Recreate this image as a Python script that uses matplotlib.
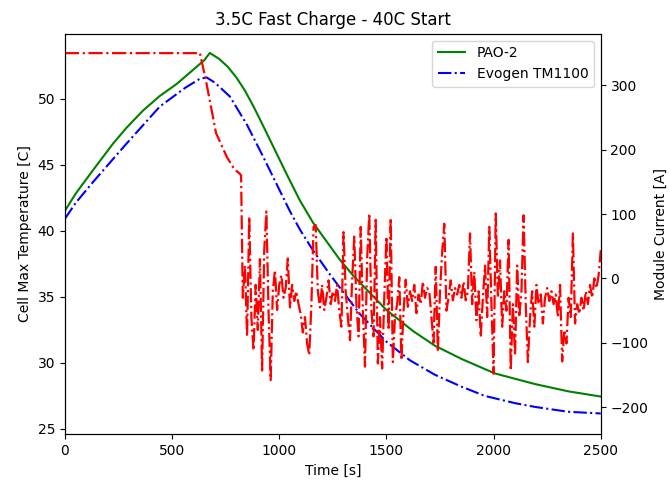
import numpy as np
import matplotlib.pyplot as plt

# temperature curves (time [s], cell max temp [C])
t_pao = [0, 50, 132, 225, 288, 365, 443, 521, 600, 650, 676, 720, 760, 800, 840, 880, 920, 956,
         1034, 1096, 1158, 1283, 1345, 1500, 1625, 1726, 1850, 2006, 2192, 2347, 2500]
temp_pao = [41.5, 42.8, 44.6, 46.6, 47.8, 49.1, 50.2, 51.1, 52.2, 52.9, 53.45, 53.0, 52.4, 51.6, 50.6, 49.4, 48.1, 46.9,
            44.3, 42.3, 40.6, 37.8, 36.6, 34.0, 32.4, 31.3, 30.3, 29.2, 28.4, 27.85, 27.45]

t_evo = [0, 50, 132, 288, 443, 560, 630, 661, 700, 770, 850, 925, 1049, 1096, 1158,
         1236, 1329, 1376, 1500, 1609, 1726, 1850, 1959, 2100, 2192, 2347, 2500]
temp_evo = [40.9, 42.1, 43.7, 46.6, 49.4, 50.8, 51.5, 51.6, 51.2, 50.15, 48.0, 45.6, 41.5, 40.1, 38.5,
            36.7, 34.7, 33.7, 31.6, 30.2, 29.1, 28.2, 27.5, 26.95, 26.67, 26.3, 26.17]

# module current [A]
t_ramp = [0, 630, 660, 705, 755, 790, 815, 822]
i_ramp = [350, 350, 304, 226, 189, 170, 163, 160]

i_noise = [
    -30, 20, -90, 96, -60, -112, -10, -80, 30, -143,
    44, 104, -50, -158, -20, 13, -49, -10, 5, -30,
    -15, 31, -45, -10, -35, -20, -40, -55, -84, -60,
    -101, -119, -40, 80, 83, -20, -45, -10, -49, -30,
    -3, -40, -20, -35, -10, -50, -75, 72, -20, -60,
    -96, -3, 65, -40, -90, 80, -50, -137, 30, 101,
    -50, -90, 91, -132, -60, -140, -30, 65, -80, 94,
    -130, -60, -40, 2, -127, -50, -2, -44, -20, -35,
    -10, -54, -25, -40, -5, -30, -15, -20, -60, -100,
    18, -114, -20, 40, 85, -50, -30, -3, -34, -15,
    -25, -10, -30, -5, -34, -20, 70, -40, 10, -65,
    -20, -91, -30, 20, -60, 80, -40, -148, 101, -30,
    28, -75, -20, -50, 60, -143, -40, -120, 20, -60,
    -20, 98, -40, -130, -60, -20, -75, -10, -40, -25,
    -70, -30, -15, -35, -20, -40, -25, -60, -10, -129,
    -80, -101, -30, -60, 70, -70, -40, -55, -30, -50,
    -20, -40, -10, -30, 0, -15, 5, 44,
]
t_noise = np.arange(830, 830 + 10 * len(i_noise), 10)

t_cur = np.concatenate([t_ramp, t_noise])
i_cur = np.concatenate([i_ramp, i_noise])

fig, ax1 = plt.subplots(figsize=(6.69, 4.83), dpi=100)
fig.subplots_adjust(left=0.097, right=0.898, top=0.93, bottom=0.101)

ax1.plot(t_pao, temp_pao, color="g", linestyle="-", label="PAO-2")
ax1.plot(t_evo, temp_evo, color="b", linestyle="-.", label="Evogen TM1100")
ax1.set_xlim(0, 2500)
ax1.set_ylim(24.6, 54.9)
ax1.set_xlabel("Time [s]")
ax1.set_ylabel("Cell Max Temperature [C]")
ax1.set_title("3.5C Fast Charge - 40C Start")
ax1.legend(loc="upper right")

ax2 = ax1.twinx()
ax2.plot(t_cur, i_cur, color="r", linestyle="-.", linewidth=1.6)
ax2.set_ylabel("Module Current [A]")
ax2.set_xlim(0, 2500)
ax2.set_ylim(-242, 380)

plt.savefig("out.png")
